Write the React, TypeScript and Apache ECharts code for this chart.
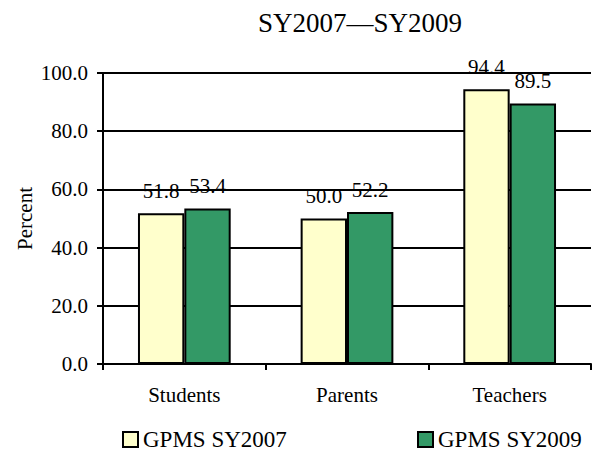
import React, { useEffect, useRef } from "react";
import * as echarts from "echarts";

const categories = ["Students", "Parents", "Teachers"];
const sy2007 = [51.8, 50.0, 94.4];
const sy2009 = [53.4, 52.2, 89.5];
const seriesNames = ["GPMS SY2007", "GPMS SY2009"];
const titleText = "SY2007\u2014SY2009";
const yAxisName = "Percent";

const FONT = "Liberation Serif";

export default function App() {
  const ref = useRef<HTMLDivElement>(null);
  useEffect(() => {
    if (!ref.current) return;
    const chart = echarts.init(ref.current, null, { renderer: "svg" });
    const labelCfg = {
      show: true,
      position: "top" as const,
      distance: 12,
      color: "#000",
      fontFamily: FONT,
      fontSize: 21,
      formatter: (p: any) => Number(p.value).toFixed(1),
    };
    const legendText = { fontFamily: FONT, fontSize: 23, color: "#000" };
    chart.setOption({
      animation: false,
      backgroundColor: "#fff",
      textStyle: { fontFamily: FONT },
      title: {
        text: titleText,
        left: 253,
        top: 4,
        textStyle: { fontFamily: FONT, fontSize: 27, fontWeight: "normal", color: "#000" },
      },
      grid: { left: 103, right: 7, top: 73, bottom: 89, containLabel: false },
      legend: [
        {
          top: 423,
          left: 117,
          itemWidth: 15,
          itemHeight: 15,
          icon: "rect",
          textStyle: legendText,
          data: [seriesNames[0]],
        },
        {
          top: 423,
          left: 412,
          itemWidth: 15,
          itemHeight: 15,
          icon: "rect",
          textStyle: legendText,
          data: [seriesNames[1]],
        },
      ],
      xAxis: {
        type: "category",
        data: categories,
        axisLine: { lineStyle: { color: "#000", width: 2 } },
        axisTick: { show: true, length: 6, lineStyle: { color: "#000", width: 2 } },
        axisLabel: { color: "#000", fontFamily: FONT, fontSize: 21, margin: 20 },
      },
      yAxis: {
        type: "value",
        min: 0,
        max: 100,
        interval: 20,
        name: yAxisName,
        nameLocation: "middle",
        nameRotate: 90,
        nameGap: 68,
        nameMoveOverlap: false,
        nameTextStyle: { fontFamily: FONT, fontSize: 21, color: "#000" },
        axisLine: { show: true, lineStyle: { color: "#000", width: 2 } },
        axisTick: { show: true, length: 6, lineStyle: { color: "#000", width: 2 } },
        axisLabel: {
          color: "#000",
          fontFamily: FONT,
          fontSize: 21,
          margin: 15,
          formatter: (v: number) => v.toFixed(1),
        },
        splitLine: { show: true, lineStyle: { color: "#000", width: 2 } },
      },
      series: [
        {
          name: seriesNames[0],
          type: "bar",
          data: sy2007,
          barGap: "0%",
          barCategoryGap: "43%",
          itemStyle: { color: "#FFFFCC", borderColor: "#000", borderWidth: 2 },
          label: labelCfg,
        },
        {
          name: seriesNames[1],
          type: "bar",
          data: sy2009,
          barGap: "0%",
          barCategoryGap: "43%",
          itemStyle: { color: "#339966", borderColor: "#000", borderWidth: 2 },
          label: labelCfg,
        },
      ],
    });
    return () => chart.dispose();
  }, []);
  return (
    <div
      ref={ref}
      style={{ position: "fixed", left: 0, top: 0, width: 598, height: 453, background: "#fff" }}
    />
  );
}
